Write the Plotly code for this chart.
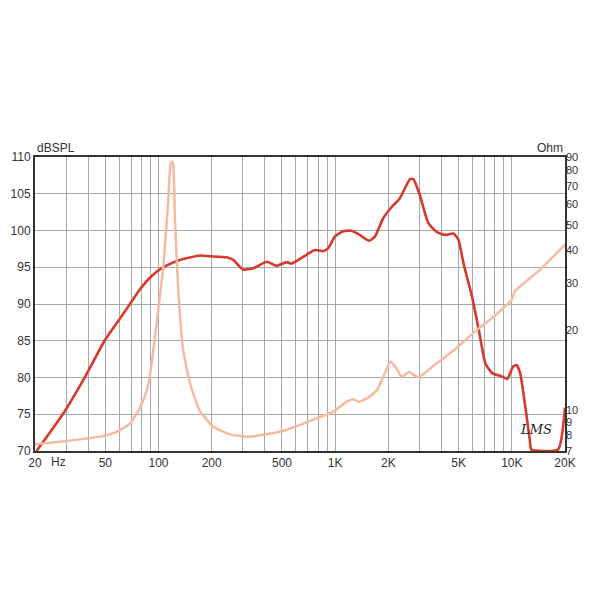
"""
Frequency response (dB SPL) and impedance (Ohm) of a driver, LMS style.
"""

import numpy as np
import plotly.graph_objects as go

# SPL response
spl_freq = [20.4, 28.9, 38.4, 49.8, 60, 69, 78.6, 88, 97.6, 110, 132, 171.6, 195.6, 243, 265,
            301, 344, 410, 466, 530, 566, 688, 768, 858, 914, 998, 1110, 1236, 1378,
            1556, 1682, 1872, 2090, 2326, 2652, 2772, 3018, 3368, 3756, 4192, 4676,
            4992, 5332, 5954, 6500, 7092, 7738, 8632, 9420, 10170, 10640, 11150,
            12630, 12900, 18260, 20000]
spl_db = [70.0, 75.1, 80.1, 85.1, 87.9, 90.0, 92.0, 93.4, 94.4, 95.2, 96.0, 96.6, 96.5, 96.35,
          96.0, 94.7, 94.85, 95.75, 95.2, 95.7, 95.5, 96.7, 97.35, 97.2, 97.6, 99.2, 99.9,
          99.97, 99.4, 98.6, 99.2, 101.7, 103.2, 104.4, 107.0, 107.0, 104.8, 101.0, 99.8,
          99.4, 99.6, 98.7, 95.5, 91.0, 86.5, 81.9, 80.6, 80.2, 79.8, 81.5, 81.7, 80.6,
          71.6, 70.2, 70.2, 75.9]

# impedance
imp_freq = [20, 30.2, 46.6, 57.9, 69, 78.6, 85.7, 89.5, 97.6, 106.4, 113.6, 117.2, 119,
            121, 123.8, 129.4, 138, 150.8, 171.6, 204.6, 254, 316, 410, 508, 632, 786,
            976, 1162, 1266, 1353, 1512, 1730, 1872, 2062, 2222, 2376, 2626, 2950, 3756,
            4854, 6316, 7900, 9960, 10400, 14360, 20000]
imp_ohm = [7.42, 7.64, 7.93, 8.27, 8.9, 10.2, 11.8, 13.5, 21.2, 34.6, 62, 85.3, 86.5,
           85, 53.5, 28.4, 16.8, 12.6, 9.9, 8.64, 8.09, 7.93, 8.09, 8.35, 8.78, 9.3,
           9.85, 10.74, 10.97, 10.74, 11.06, 11.9, 13.35, 15.2, 14.35, 13.35, 13.9, 13.3,
           15.0, 17.1, 20.0, 22.5, 26, 28.0, 33.7, 42]

# axis ticks
grid_freq = [20, 30, 40, 50, 60, 70, 80, 90,
             100, 200, 300, 400, 500, 600, 700, 800, 900,
             1000, 2000, 3000, 4000, 5000, 6000, 7000, 8000, 9000,
             10000, 20000]
freq_labels = {20: "20", 50: "50", 100: "100", 200: "200", 500: "500",
               1000: "1K", 2000: "2K", 5000: "5K", 10000: "10K", 20000: "20K"}
db_ticks = [70, 75, 80, 85, 90, 95, 100, 105, 110]
ohm_ticks = [7, 8, 9, 10, 20, 30, 40, 50, 60, 70, 80, 90]

FONT = "Liberation Sans, Arial, sans-serif"
RED = "#d8392d"
PINK = "#f6b9a1"

fig = go.Figure()
fig.add_trace(go.Scatter(
    x=imp_freq, y=imp_ohm, yaxis="y2", mode="lines",
    line=dict(color=PINK, width=2.5, shape="spline", smoothing=0.5),
    hoverinfo="skip",
))
fig.add_trace(go.Scatter(
    x=spl_freq, y=spl_db, mode="lines",
    line=dict(color=RED, width=2.6, shape="spline", smoothing=0.5),
    hoverinfo="skip",
))

# page body has an 8px margin, so the figure is 592 wide and the margins are shifted
fig.update_layout(
    width=592, height=592,
    margin=dict(l=27, r=35, t=149, b=149, autoexpand=False),
    paper_bgcolor="#ffffff",
    plot_bgcolor="#ffffff",
    showlegend=False,
    font=dict(family=FONT, size=12, color="#333333"),
    xaxis=dict(
        type="log",
        range=[np.log10(20), np.log10(20000)],
        tickvals=grid_freq,
        ticktext=[freq_labels.get(f, "") for f in grid_freq],
        showgrid=True, gridcolor="#a8a8a8", gridwidth=1.3,
        showline=True, linecolor="#333333", linewidth=2, mirror=True,
        ticks="", zeroline=False, automargin=False,
    ),
    yaxis=dict(
        range=[70, 110],
        tickvals=db_ticks,
        showgrid=True, gridcolor="#a8a8a8", gridwidth=1.3,
        showline=True, linecolor="#333333", linewidth=2, mirror=True,
        ticks="", zeroline=False, automargin=False,
    ),
    yaxis2=dict(
        type="log",
        overlaying="y", side="right",
        range=[np.log10(7), np.log10(90)],
        tickvals=ohm_ticks,
        tickfont=dict(size=11),
        showgrid=False, ticks="", zeroline=False, automargin=False,
    ),
)

fig.add_annotation(text="dBSPL", xref="paper", yref="paper", x=0, y=1,
                   xanchor="left", yanchor="bottom", showarrow=False,
                   font=dict(family=FONT, size=12, color="#333333"))
fig.add_annotation(text="Ohm", xref="paper", yref="paper", x=1, y=1,
                   xanchor="right", yanchor="bottom", showarrow=False,
                   font=dict(family=FONT, size=12, color="#333333"))
fig.add_annotation(text="Hz", xref="paper", yref="paper", x=0.026, y=0,
                   xanchor="left", yanchor="top", yshift=-2, showarrow=False,
                   font=dict(family=FONT, size=12, color="#333333"))
fig.add_annotation(text="<i>LMS</i>", xref="paper", yref="paper", x=0.98, y=0.04,
                   xanchor="right", yanchor="bottom", showarrow=False,
                   font=dict(family="DejaVu Serif, serif", size=13, color="#222222"))

fig.write_html("out.html")
